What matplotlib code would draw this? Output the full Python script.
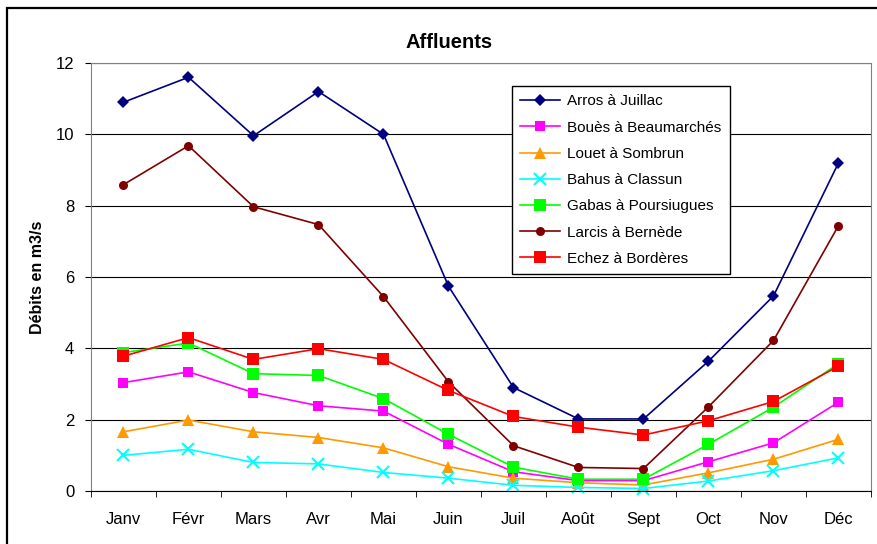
import matplotlib.pyplot as plt
from matplotlib.patches import Rectangle
from matplotlib.ticker import FixedLocator

plt.rcParams['font.family'] = ['Liberation Sans', 'DejaVu Sans']

# Data
mois = ['Janv', 'Févr', 'Mars', 'Avr', 'Mai', 'Juin',
        'Juil', 'Août', 'Sept', 'Oct', 'Nov', 'Déc']
arros = [10.9, 11.6, 9.96, 11.2, 10.0, 5.74, 2.9, 2.02, 2.02, 3.64, 5.47, 9.2]
boues = [3.04, 3.34, 2.76, 2.39, 2.24, 1.31, 0.54, 0.29, 0.29, 0.82, 1.35, 2.49]
louet = [1.66, 1.99, 1.66, 1.5, 1.21, 0.68, 0.36, 0.23, 0.17, 0.51, 0.89, 1.45]
bahus = [1.0, 1.17, 0.8, 0.76, 0.52, 0.36, 0.16, 0.1, 0.07, 0.28, 0.57, 0.93]
gabas = [3.88, 4.15, 3.29, 3.24, 2.59, 1.59, 0.67, 0.33, 0.33, 1.31, 2.35, 3.57]
larcis = [8.59, 9.68, 7.97, 7.47, 5.45, 3.06, 1.27, 0.66, 0.63, 2.36, 4.22, 7.44]
echez = [3.78, 4.3, 3.69, 3.99, 3.69, 2.82, 2.09, 1.79, 1.57, 1.97, 2.51, 3.5]

series = [
    ('Arros à Juillac', arros, '#000080', 'D', 6.5),
    ('Bouès à Beaumarchés', boues, '#FF00FF', 's', 7),
    ('Louet à Sombrun', louet, '#FF9900', '^', 8),
    ('Bahus à Classun', bahus, '#00FFFF', 'x', 8),
    ('Gabas à Poursiugues', gabas, '#00FF00', 's', 8.5),
    ('Larcis à Bernède', larcis, '#800000', 'o', 6.5),
    ('Echez à Bordères', echez, '#FF0000', 's', 9),
]

fig = plt.figure(figsize=(8.78, 5.44), dpi=100)
ax = fig.add_axes([91 / 878, 53 / 544, 780 / 878, 428 / 544])

x = list(range(len(mois)))
for name, vals, color, marker, size in series:
    mew = 1.5 if marker == 'x' else 0
    ax.plot(x, vals, color=color, marker=marker, markersize=size,
            markeredgewidth=mew, markeredgecolor=color, linewidth=1.2,
            label=name, clip_on=False)

ax.set_xlim(-0.5, 11.5)
ax.set_ylim(0, 12)
ax.set_yticks(range(0, 13, 2))
ax.set_xticks(x)
ax.set_xticklabels(mois)
ax.xaxis.set_minor_locator(FixedLocator([i + 0.5 for i in range(-1, 12)]))
ax.tick_params(axis='x', which='major', length=0, pad=15, labelsize=12)
ax.tick_params(axis='x', which='minor', length=4, direction='out', color='black')
ax.tick_params(axis='y', length=4, direction='out', pad=8, labelsize=12)

ax.grid(axis='y', color='black', linewidth=0.8)
ax.set_axisbelow(True)
for side in ['top', 'right', 'left']:
    ax.spines[side].set_color('#808080')
ax.spines['bottom'].set_color('black')

fig.text(449 / 878, 1 - 42 / 544, 'Affluents', fontsize=14.5, fontweight='bold',
         ha='center', va='center')
ax.set_ylabel('Débits en m3/s', fontsize=11.5, fontweight='bold', labelpad=8)

leg = ax.legend(loc='upper left', bbox_to_anchor=(512 / 878, 1 - 86 / 544),
                bbox_transform=fig.transFigure, borderaxespad=0, fontsize=11,
                fancybox=False, framealpha=1, edgecolor='black',
                handlelength=2.6, labelspacing=0.8, borderpad=0.55,
                handletextpad=0.45)
leg.get_frame().set_linewidth(1.0)

# outer chart frame
fig.patches.append(Rectangle((7 / 878, -0.1), 1.2, 1.1 - 8 / 544,
                             transform=fig.transFigure, fill=False,
                             edgecolor='black', linewidth=1.6))

plt.savefig('out.png', dpi=100)
